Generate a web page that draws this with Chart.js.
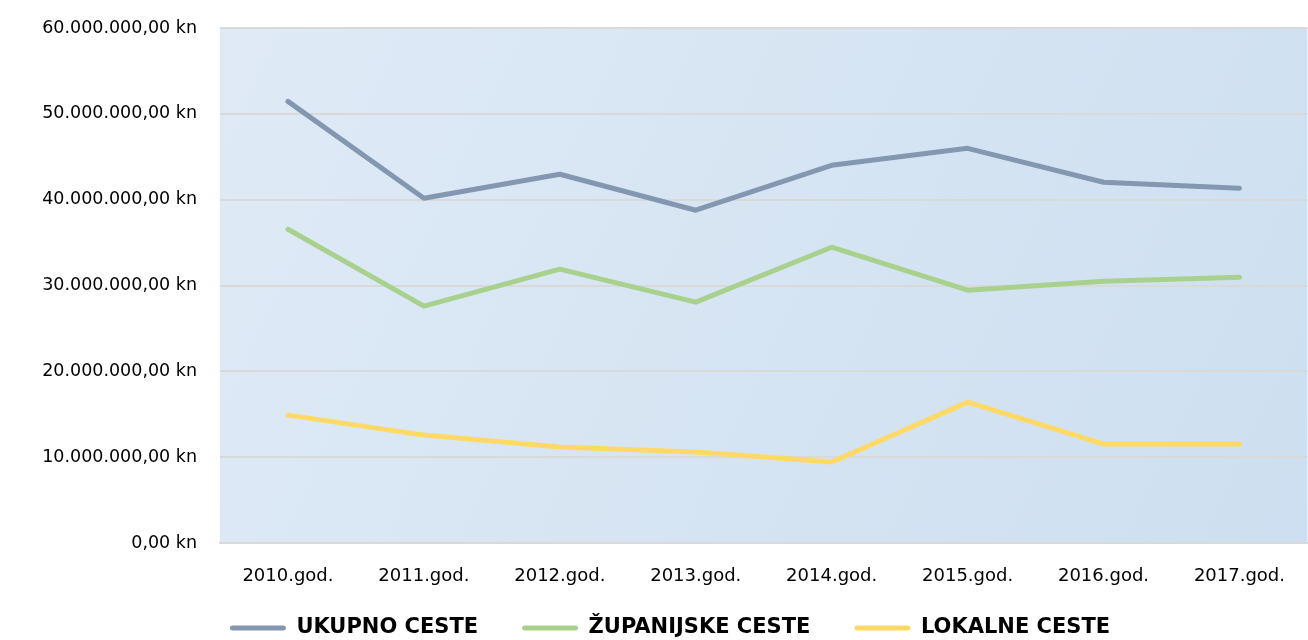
<!DOCTYPE html>
<html>
<head>
<meta charset="utf-8">
<script src="https://cdn.jsdelivr.net/npm/chart.js@4/dist/chart.umd.min.js"></script>
<style>
  html, body { margin: 0; padding: 0; background: #ffffff; }
  #wrap { width: 1308px; height: 640px; position: relative; }
</style>
</head>
<body>
<div id="wrap"><canvas id="c" width="1308" height="640"></canvas></div>
<script>
const categories = ["2010.god.", "2011.god.", "2012.god.", "2013.god.", "2014.god.", "2015.god.", "2016.god.", "2017.god."];
const ukupnoCeste = [51450000, 40160000, 42960000, 38770000, 44000000, 45980000, 42030000, 41330000];
const zupanijskeCeste = [36550000, 27590000, 31900000, 28060000, 34460000, 29450000, 30500000, 30970000];
const lokalneCeste = [14900000, 12570000, 11180000, 10600000, 9430000, 16410000, 11530000, 11530000];
const seriesNames = ["UKUPNO CESTE", "ŽUPANIJSKE CESTE", "LOKALNE CESTE"];
const yTickValues = [0, 10000000, 20000000, 30000000, 40000000, 50000000, 60000000];

const FONT = "'DejaVu Sans', sans-serif";

function formatKn(v) {
  const parts = Math.round(v).toString().replace(/\B(?=(\d{3})+(?!\d))/g, ".");
  return parts + ",00 kn";
}

const bgPlugin = {
  id: 'plotBg',
  beforeDraw(chart) {
    const a = chart.chartArea;
    const ctx = chart.ctx;
    const g = ctx.createLinearGradient(a.left, a.top, a.right, a.bottom);
    g.addColorStop(0, '#dfeaf6');
    g.addColorStop(1, '#cddff0');
    ctx.save();
    ctx.fillStyle = g;
    ctx.fillRect(a.left, a.top, a.right - a.left, a.bottom - a.top);
    ctx.restore();
  }
};

// Keeps the legend compact in the layout and places its row near the bottom edge.
const legendPlacePlugin = {
  id: 'legendPlace',
  beforeLayout(chart) {
    const lg = chart.legend;
    if (lg && !lg._wrappedFit) {
      const orig = lg.fit.bind(lg);
      lg.fit = function () { orig(); this.height = 47; };
      lg._wrappedFit = true;
    }
  },
  afterLayout(chart) {
    const lg = chart.legend;
    if (lg) {
      lg.top = 573.5;
      lg.bottom = 640;
      lg.height = lg.bottom - lg.top;
      lg.left = 32;
      lg.right = chart.width;
      lg.width = lg.right - lg.left;
    }
  }
};

const colors = ['#8497b0', '#a9d18e', '#ffd966'];
const dataArrays = [ukupnoCeste, zupanijskeCeste, lokalneCeste];

new Chart(document.getElementById('c'), {
  type: 'line',
  data: {
    labels: categories,
    datasets: dataArrays.map((d, i) => ({
      label: seriesNames[i],
      data: d,
      borderColor: colors[i],
      backgroundColor: colors[i],
      borderWidth: 5,
      pointRadius: 0,
      pointHoverRadius: 0,
      tension: 0,
      borderCapStyle: 'round',
      borderJoinStyle: 'round',
      fill: false
    }))
  },
  options: {
    responsive: false,
    animation: false,
    layout: { autoPadding: false, padding: { top: 28, right: 0, bottom: 0, left: 0 } },
    plugins: {
      tooltip: { enabled: false },
      legend: {
        position: 'bottom',
        labels: {
          color: '#000000',
          font: { family: FONT, size: 21, weight: 'bold' },
          boxWidth: 56,
          boxHeight: 5,
          padding: 44,
          useBorderRadius: true,
          borderRadius: 2.5,
          generateLabels(chart) {
            return chart.data.datasets.map((ds, i) => ({
              text: ds.label,
              fillStyle: ds.borderColor,
              strokeStyle: ds.borderColor,
              lineWidth: 0,
              hidden: false,
              datasetIndex: i,
              fontColor: '#000000',
              borderRadius: 2.5
            }));
          }
        }
      }
    },
    scales: {
      x: {
        offset: true,
        grid: { display: false, drawTicks: false },
        border: { display: true, color: '#d9d9d9', width: 2 },
        ticks: {
          color: '#000000',
          font: { family: FONT, size: 18 },
          padding: 23,
          maxRotation: 0
        },
        afterFit(scale) { scale.height = 50; }
      },
      y: {
        min: 0,
        max: 60000000,
        afterBuildTicks(scale) { scale.ticks = yTickValues.map(v => ({ value: v })); },
        grid: { color: '#d9d9d9', lineWidth: 2, drawTicks: false },
        border: { display: false },
        ticks: {
          color: '#000000',
          font: { family: FONT, size: 17.5 },
          padding: 23,
          callback: (v) => formatKn(v)
        },
        afterFit(scale) {
          scale.width = 220;
          scale.paddingTop = 0;
          scale.paddingBottom = 0;
        }
      }
    }
  },
  plugins: [bgPlugin, legendPlacePlugin]
});
</script>
</body>
</html>
